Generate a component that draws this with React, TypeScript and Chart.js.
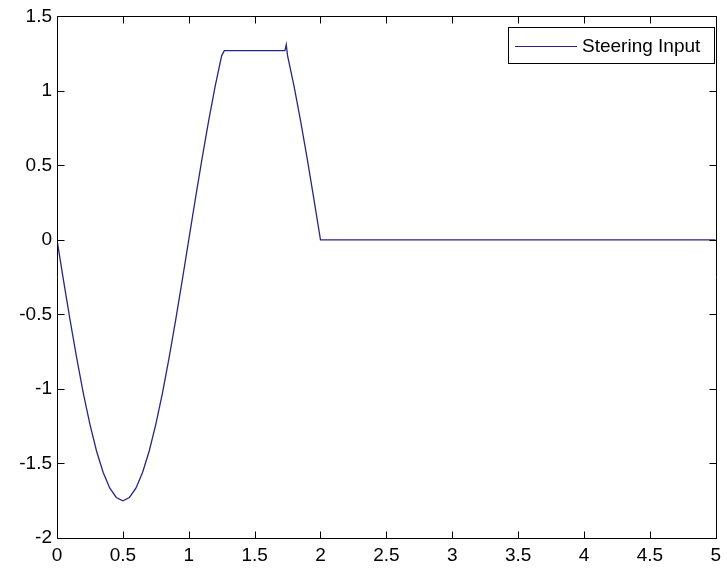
import { useEffect, useRef } from "react";
import { Chart, registerables } from "chart.js";

Chart.register(...registerables);

// time (s)
const timeS = [
  0, 0.05, 0.1, 0.15, 0.2, 0.25, 0.3, 0.35, 0.4, 0.45, 0.5, 0.55, 0.6, 0.65, 0.7,
  0.75, 0.8, 0.85, 0.9, 0.95, 1.0, 1.05, 1.1, 1.15, 1.2, 1.25, 1.27, 1.5, 1.73,
  1.74, 1.75, 1.8, 1.85, 1.9, 1.95, 2.0, 3.0, 4.0, 5.0,
];
// steering input values
const steeringInput = [
  0, -0.274, -0.541, -0.794, -1.029, -1.237, -1.416, -1.559, -1.664, -1.728, -1.75,
  -1.728, -1.664, -1.559, -1.416, -1.237, -1.029, -0.794, -0.541, -0.274, 0, 0.274,
  0.541, 0.794, 1.029, 1.237, 1.27, 1.27, 1.27, 1.31, 1.237, 1.029, 0.794, 0.541,
  0.274, 0, 0, 0, 0,
];
const xTicks = [0, 0.5, 1, 1.5, 2, 2.5, 3, 3.5, 4, 4.5, 5];
const yTicks = [-2, -1.5, -1, -0.5, 0, 0.5, 1, 1.5];
const seriesLabel = "Steering Input";

const FONT_FAMILY = "'Liberation Sans', Arial, sans-serif";
const FONT_SIZE = 19;
const LINE_COLOR = "#262680";

const framePlugin = {
  id: "matlabFrame",
  afterDraw(chart: any) {
    const { ctx, chartArea } = chart;
    const { left, right, top, bottom } = chartArea;
    const xs = chart.scales.x;
    const ys = chart.scales.y;
    const tick = 7;
    ctx.save();
    ctx.strokeStyle = "#000";
    ctx.lineWidth = 1;
    const L = Math.round(left) + 0.5;
    const R = Math.round(right) + 0.5;
    const T = Math.round(top) + 0.5;
    const B = Math.round(bottom) + 0.5;
    ctx.beginPath();
    ctx.rect(L, T, R - L, B - T);
    ctx.stroke();
    ctx.beginPath();
    xTicks.forEach((v) => {
      const px = Math.round(xs.getPixelForValue(v)) + 0.5;
      ctx.moveTo(px, B);
      ctx.lineTo(px, B - tick);
      ctx.moveTo(px, T);
      ctx.lineTo(px, T + tick);
    });
    yTicks.forEach((v) => {
      const py = Math.round(ys.getPixelForValue(v)) + 0.5;
      ctx.moveTo(L, py);
      ctx.lineTo(L + tick, py);
      ctx.moveTo(R, py);
      ctx.lineTo(R - tick, py);
    });
    ctx.stroke();

    // legend box
    const bx = 508.5;
    const by = 27.5;
    const bw = 206;
    const bh = 36;
    ctx.fillStyle = "#fff";
    ctx.fillRect(bx, by, bw, bh);
    ctx.strokeStyle = "#000";
    ctx.strokeRect(bx, by, bw, bh);
    const cy = by + bh / 2;
    ctx.strokeStyle = LINE_COLOR;
    ctx.beginPath();
    ctx.moveTo(515, Math.round(cy) + 0.5);
    ctx.lineTo(577, Math.round(cy) + 0.5);
    ctx.stroke();
    ctx.fillStyle = "#000";
    ctx.font = `${FONT_SIZE}px ${FONT_FAMILY}`;
    ctx.textBaseline = "middle";
    ctx.textAlign = "left";
    ctx.fillText(seriesLabel, 582, cy + 1);
    ctx.restore();
  },
};

export default function App() {
  const canvasRef = useRef<HTMLCanvasElement | null>(null);

  useEffect(() => {
    document.body.style.margin = "0";
    const canvas = canvasRef.current;
    if (!canvas) return;
    const chart = new Chart(canvas, {
      type: "line",
      data: {
        datasets: [
          {
            label: seriesLabel,
            data: timeS.map((t, i) => ({ x: t, y: steeringInput[i] })),
            borderColor: LINE_COLOR,
            borderWidth: 1.3,
            pointRadius: 0,
            tension: 0,
            fill: false,
          },
        ],
      },
      options: {
        responsive: false,
        animation: false,
        devicePixelRatio: 1,
        layout: { padding: { left: 0, right: 7, top: 15, bottom: 0 } },
        plugins: {
          legend: { display: false },
          tooltip: { enabled: false },
          title: { display: false },
        },
        scales: {
          x: {
            type: "linear",
            min: 0,
            max: 5,
            border: { display: false },
            grid: { display: false, drawTicks: false, tickLength: 0 },
            afterBuildTicks: (s: any) => {
              s.ticks = xTicks.map((v) => ({ value: v }));
            },
            afterFit: (s: any) => {
              s.height = 31;
            },
            ticks: {
              autoSkip: false,
              maxRotation: 0,
              padding: 6,
              color: "#000",
              font: { family: FONT_FAMILY, size: FONT_SIZE },
              callback: (v: any) => String(v),
            },
          },
          y: {
            type: "linear",
            min: -2,
            max: 1.5,
            border: { display: false },
            grid: { display: false, drawTicks: false, tickLength: 0 },
            afterBuildTicks: (s: any) => {
              s.ticks = yTicks.map((v) => ({ value: v }));
            },
            afterFit: (s: any) => {
              s.width = 57;
            },
            ticks: {
              autoSkip: false,
              padding: 5,
              color: "#000",
              font: { family: FONT_FAMILY, size: FONT_SIZE },
              callback: (v: any) => String(v),
            },
          },
        },
      },
      plugins: [framePlugin],
    });
    return () => chart.destroy();
  }, []);

  return (
    <div style={{ position: "fixed", left: 0, top: 0, width: 727, height: 569, background: "#fff" }}>
      <canvas ref={canvasRef} width={727} height={569} />
    </div>
  );
}
